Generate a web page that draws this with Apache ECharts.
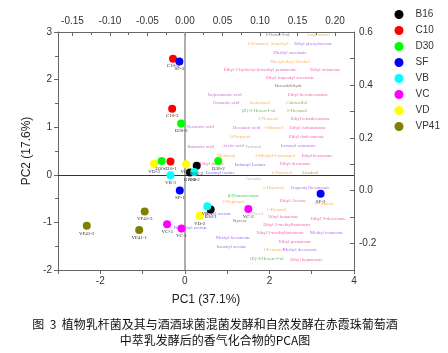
<!DOCTYPE html>
<html>
<head>
<meta charset="utf-8">
<script src="https://cdn.jsdelivr.net/npm/echarts@6/dist/echarts.min.js"></script>
<style>
  html, body { margin: 0; padding: 0; background: #fff; }
  #chart { width: 448px; height: 353px; }
</style>
</head>
<body>
<div id="chart"></div>
<script>
// scores (PC1, PC2), replicates -1, -2, -3
const groupNames = ["B16", "C10", "D30", "SF", "VB", "VC", "VD", "VP41"];
const B16 = [[0.61, -0.73], [0.28, 0.19], [0.12, 0.05]];
const C10 = [[-0.34, 0.28], [-0.28, 2.44], [-0.30, 1.39]];
const D30 = [[-0.55, 0.29], [0.79, 0.29], [-0.09, 1.08]];
const SF = [[-0.12, -0.33], [3.21, -0.40], [-0.13, 2.38]];
const VB = [[0.53, -0.66], [0.22, 0.06], [-0.34, -0.01]];
const VC = [[-0.08, -1.13], [1.50, -0.72], [-0.42, -1.04]];
const VD = [[0.03, 0.22], [0.35, -0.86], [-0.73, 0.23]];
const VP41 = [[-1.08, -1.16], [-2.32, -1.07], [-0.95, -0.77]];
const groupScores = [B16, C10, D30, SF, VB, VC, VD, VP41];

// loadings (top / right axes)
const compoundNames = [
  "1-Octen-3-ol", "Isopentanol", "1-Pentanol, 4-methyl-", "Ethyl phenylacetate",
  "Diethyl succinate", "Phenylethyl Alcohol", "Ethyl 2-hydroxy-4-methyl pentanoate",
  "Ethyl octanoate", "Ethyl isopentyl succinate", "Benzaldehyde", "Isopentanoic acid",
  "Ethyl hexadecanoate", "Octanoic acid", "Isobutanol", "Citronellol", "(Z)-3-Hexen-1-ol",
  "1-Hexanol", "2-Nonanol", "Ethyl tetradecanoate", "Hexanoic acid", "Decanoic acid",
  "1-Butanol", "Ethyl isobutanoate", "1-Propanol", "Ethyl dodecanoate", "Butanoic acid",
  "Acetic acid", "Furfural", "Isoamyl octanoate", "Methanol", "3-Methyl-1-pentanol",
  "Ethyl hexanoate", "Ethyl lactate", "Isobutyl Lactate", "Ethyl decanoate",
  "Isoamyl lactate", "1-Nonanol", "Linalool", "Acetoin", "1-Heptanol",
  "Isopentyl hexanoate", "β-Damascenone", "2-Heptanol", "Ethyl Acetate", "1-Octanol",
  "1-Decanol", "Ethyl butanoate", "Hexyl acetate", "Styrene", "Nerol",
  "Ethyl 9-decenoate", "Ethyl 3-methylbutanoate", "Ethyl 2-methylbutanoate",
  "Methyl octanoate", "Methyl hexanoate", "Ethyl pentanoate", "Isoamyl acetate",
  "1-Pentanol", "Methyl decanoate", "(E)-3-Hexen-1-ol", "Ethyl heptanoate",
  "Phenethyl acetate"
];
const loadPC1 = [
  0.123, 0.178, 0.111, 0.171, 0.140, 0.140, 0.100, 0.187, 0.140, 0.138, 0.053,
  0.164, 0.055, 0.100, 0.149, 0.098, 0.149, 0.111, 0.167, 0.020, 0.082, 0.118,
  0.164, 0.073, 0.162, 0.021, 0.064, 0.091, 0.151, 0.055, 0.120, 0.176, 0.036,
  0.087, 0.147, 0.047, 0.129, 0.167, 0.091, 0.118, 0.167, 0.078, 0.064, 0.144,
  0.185, 0.122, 0.131, 0.044, 0.073, 0.097, 0.191, 0.136, 0.127, 0.189, 0.064,
  0.147, 0.062, 0.118, 0.153, 0.109, 0.162, 0.007
];
const loadPC2 = [
  0.589, 0.589, 0.555, 0.555, 0.520, 0.488, 0.457, 0.457, 0.426, 0.396, 0.361,
  0.361, 0.331, 0.331, 0.331, 0.302, 0.302, 0.272, 0.272, 0.243, 0.237, 0.237,
  0.237, 0.204, 0.204, 0.166, 0.170, 0.166, 0.168, 0.132, 0.133, 0.133, 0.101,
  0.098, 0.101, 0.067, 0.069, 0.069, 0.044, 0.010, 0.010, -0.019, -0.040, -0.037,
  -0.049, -0.072, -0.097, -0.089, -0.113, -0.087, -0.107, -0.128, -0.160, -0.160,
  -0.178, -0.195, -0.212, -0.225, -0.225, -0.258, -0.260, -0.141
];
const compoundClass = [
  "misc", "alc", "alc", "ester", "ester", "alc", "ethyl", "ethyl", "ethyl", "carb",
  "acid", "ethyl", "acid", "alc", "terp", "c6", "terp", "alc", "ethyl", "acid",
  "acid", "alc", "ethyl", "alc", "ethyl", "acid", "acid", "carb2", "ester", "alc",
  "alc", "ethyl", "ethyl", "acet", "ethyl", "acet", "alc", "terp", "carb2", "alc",
  "ester", "c6b", "alc", "ethyl", "alc", "alc", "ethyl", "acet", "misc", "pale",
  "ethyl", "ethyl", "ethyl", "ester", "ester", "ethyl", "ester", "alc", "ester",
  "c6", "ethyl", "acet"
];

const groupColors = ["#000000", "#ff0000", "#00ff00", "#0000ff", "#00ffff", "#ff00ff", "#ffff00", "#808000"];
const classColors = {
  alc: "#f5a040", ethyl: "#f0409a", ester: "#9a50f0", acid: "#b850c0",
  c6: "#3c9a3c", c6b: "#20c020", terp: "#8c8c30", carb: "#6a4a3a",
  carb2: "#a0a0a0", acet: "#5858f0", misc: "#555555", pale: "#c8b488"
};

const chart = echarts.init(document.getElementById("chart"));

const scoreSeries = groupNames.map((g, gi) => ({
  name: g,
  type: "scatter",
  xAxisIndex: 0,
  yAxisIndex: 0,
  symbolSize: 8,
  itemStyle: { color: groupColors[gi], opacity: 1 },
  z: 5,
  label: {
    show: true,
    position: "bottom",
    distance: 1,
    fontSize: 5,
    color: "#333",
    fontFamily: "Liberation Serif",
    formatter: (p) => p.data.label
  },
  data: groupScores[gi].map((v, i) => ({ value: v, label: g + "-" + (i + 1) }))
}));

const axisGray = "#666";

const option = {
  animation: false,
  grid: { left: 58, right: 94, top: 32, bottom: 83 },
  legend: {
    orient: "vertical",
    left: 394.5,
    top: 9.5,
    padding: 0,
    icon: "circle",
    itemWidth: 9,
    itemHeight: 9,
    itemGap: 6,
    textStyle: { fontSize: 10, color: "#333", fontFamily: "Liberation Sans", padding: [0, 0, 0, 7] },
    data: groupNames
  },
  title: {
    text: "图  3  植物乳杆菌及其与酒酒球菌混菌发酵和自然发酵在赤霞珠葡萄酒\n中萃乳发酵后的香气化合物的PCA图",
    left: 210,
    top: 311,
    textAlign: "center",
    textStyle: {
      fontSize: 12,
      lineHeight: 16,
      fontWeight: "normal",
      color: "#111",
      fontFamily: "Noto Sans CJK SC"
    }
  },
  xAxis: [
    {
      type: "value",
      position: "bottom",
      min: -3,
      max: 4,
      interval: 1,
      name: "PC1 (37.1%)",
      nameLocation: "middle",
      nameGap: 24,
      nameTextStyle: { fontSize: 12, color: "#222", fontFamily: "Liberation Sans" },
      axisLine: { onZero: false, lineStyle: { color: axisGray } },
      axisTick: { inside: false, length: 4, lineStyle: { color: axisGray } },
      axisLabel: {
        fontSize: 10, color: "#333", margin: 6, fontFamily: "Liberation Sans",
        formatter: (v) => (v % 2 === 0 ? String(v) : "")
      },
      splitLine: { show: false }
    },
    {
      type: "value",
      position: "top",
      min: -0.1693,
      max: 0.2253,
      splitNumber: 8,
      axisLine: { onZero: false, lineStyle: { color: axisGray } },
      axisTick: { inside: true, length: 4, lineStyle: { color: axisGray } },
      minorTick: { show: true, splitNumber: 2, length: 3, lineStyle: { color: axisGray } },
      axisLabel: {
        fontSize: 10, color: "#333", margin: 6, fontFamily: "Liberation Sans",
        showMinLabel: false, showMaxLabel: false,
        formatter: (v) => v.toFixed(2)
      },
      splitLine: { show: false }
    }
  ],
  yAxis: [
    {
      type: "value",
      position: "left",
      min: -2,
      max: 3,
      interval: 1,
      name: "PC2 (17.6%)",
      nameLocation: "middle",
      nameRotate: 90,
      nameGap: 19,
      nameTextStyle: { fontSize: 12, color: "#222", fontFamily: "Liberation Sans" },
      axisLine: { onZero: false, lineStyle: { color: axisGray } },
      axisTick: { inside: false, length: 4, lineStyle: { color: axisGray } },
      minorTick: { show: true, splitNumber: 2, length: 3, lineStyle: { color: axisGray } },
      axisLabel: { fontSize: 10, color: "#333", margin: 6, fontFamily: "Liberation Sans" },
      splitLine: { show: false }
    },
    {
      type: "value",
      position: "right",
      min: -0.3,
      max: 0.6,
      interval: 0.1,
      axisLine: { onZero: false, lineStyle: { color: axisGray } },
      axisTick: { inside: true, length: 4, lineStyle: { color: axisGray } },
      axisLabel: {
        fontSize: 10, color: "#333", margin: 5, fontFamily: "Liberation Sans",
        formatter: (v) => (Math.round(v * 10) % 2 === 0 ? v.toFixed(1) : "")
      },
      splitLine: { show: false }
    }
  ],
  series: [
    {
      name: "loadings",
      type: "scatter",
      xAxisIndex: 1,
      yAxisIndex: 1,
      symbolSize: 0,
      silent: true,
      z: 3,
      label: {
        show: true,
        position: "inside",
        fontSize: 4.8,
        fontFamily: "Liberation Serif",
        formatter: (p) => p.name
      },
      data: compoundNames.map((n, i) => ({
        name: n,
        value: [loadPC1[i], loadPC2[i]],
        label: { color: classColors[compoundClass[i]] }
      })),
      markLine: {
        silent: true,
        symbol: ["none", "none"],
        label: { show: false },
        xAxisIndex: 0,
        data: []
      }
    },
    {
      name: "axes0",
      type: "scatter",
      xAxisIndex: 0,
      yAxisIndex: 0,
      data: [],
      markLine: {
        silent: true,
        symbol: ["none", "none"],
        label: { show: false },
        animation: false,
        data: [
          { xAxis: 0, lineStyle: { color: "#9a9a9a", width: 1.6, type: "solid" } },
          { yAxis: 0, lineStyle: { color: "#333", width: 1, type: "solid" } }
        ]
      }
    },
    ...scoreSeries
  ]
};

chart.setOption(option);
</script>
</body>
</html>
